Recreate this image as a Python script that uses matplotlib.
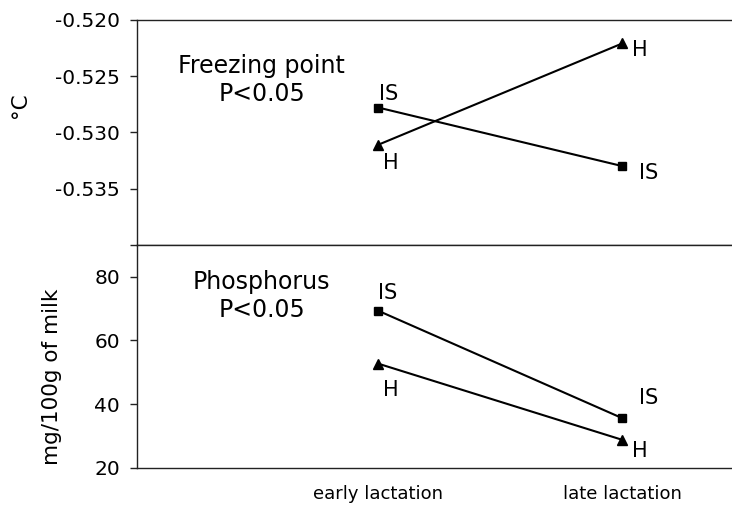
import numpy as np
import matplotlib.pyplot as plt

# stage of lactation
stages = ['early lactation', 'late lactation']

# freezing point, degC
fp_is = [-0.5278, -0.5330]
fp_h = [-0.5311, -0.5221]

# phosphorus, mg/100g of milk
p_is = [69.3, 35.6]
p_h = [52.7, 28.8]

x = np.arange(len(stages))

fig = plt.figure(figsize=(7.32, 5.08), dpi=100)
ax1 = fig.add_axes([0.187, 0.518, 0.813, 0.443])
ax2 = fig.add_axes([0.187, 0.079, 0.813, 0.439])

fs_tick = 14.5
fs_lab = 15
fs_title = 17

for ax in (ax1, ax2):
    ax.set_xlim(-0.99, 1.45)
    ax.spines['right'].set_visible(False)
    for s in ax.spines.values():
        s.set_linewidth(1.0)
        s.set_color('#222222')
    ax.tick_params(axis='y', length=5, width=1.0, pad=7, labelsize=fs_tick, color='#222222')

# top panel: freezing point
ax1.plot(x, fp_is, color='black', lw=1.5, marker='s', ms=6)
ax1.plot(x, fp_h, color='black', lw=1.5, marker='^', ms=7)
ax1.set_ylim(-0.540, -0.520)
ax1.set_yticks([-0.540, -0.535, -0.530, -0.525, -0.520])
ax1.set_yticklabels(['', '-0.535', '-0.530', '-0.525', '-0.520'])
ax1.set_xticks([])
ax1.set_ylabel('°C', fontsize=15.5)
ax1.yaxis.set_label_coords(-0.180, 0.62)
ax1.text(0.21, 0.733, 'Freezing point\nP<0.05', transform=ax1.transAxes,
         ha='center', va='center', fontsize=fs_title, linespacing=1.2)

def label(ax, xv, yv, txt, dx, dy):
    ax.annotate(txt, (xv, yv), xytext=(dx, dy), textcoords='offset pixels',
                ha='center', va='center', fontsize=fs_lab)

label(ax1, x[0], fp_is[0], 'IS', 10, 14)
label(ax1, x[0], fp_h[0], 'H', 12, -18)
label(ax1, x[1], fp_h[1], 'H', 18, -7)
label(ax1, x[1], fp_is[1], 'IS', 26, -7)

# bottom panel: phosphorus
ax2.plot(x, p_is, color='black', lw=1.5, marker='s', ms=6)
ax2.plot(x, p_h, color='black', lw=1.5, marker='^', ms=7)
ax2.set_ylim(20, 90)
ax2.set_yticks([20, 40, 60, 80])
ax2.set_xticks(x)
ax2.set_xticklabels(stages, fontsize=13)
ax2.tick_params(axis='x', length=0, pad=12)
ax2.set_ylabel('mg/100g of milk', fontsize=15.5)
ax2.yaxis.set_label_coords(-0.125, 0.41)
ax2.text(0.21, 0.771, 'Phosphorus\nP<0.05', transform=ax2.transAxes,
         ha='center', va='center', fontsize=fs_title, linespacing=1.2)

label(ax2, x[0], p_is[0], 'IS', 9, 18)
label(ax2, x[0], p_h[0], 'H', 12, -26)
label(ax2, x[1], p_is[1], 'IS', 26, 20)
label(ax2, x[1], p_h[1], 'H', 18, -11)

fig.savefig('out.png', dpi=100)
